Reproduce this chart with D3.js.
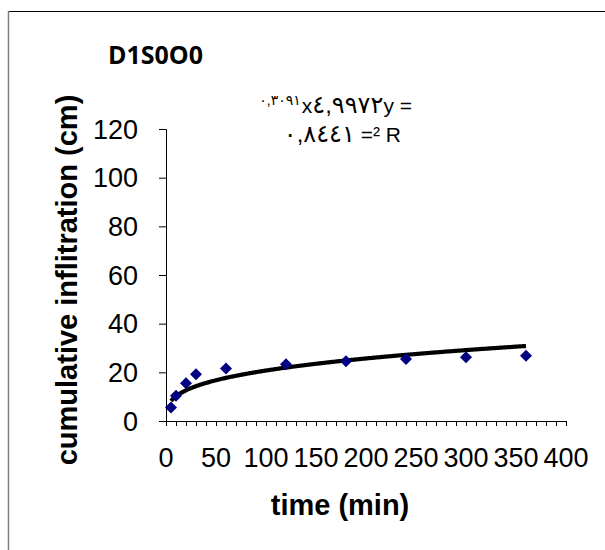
<!DOCTYPE html>
<html lang="en">
<head>
<meta charset="UTF-8">
<title>D1S0O0</title>
<style>
  body { margin: 0; background: #fff; }
  text { font-family: "Liberation Sans", Arial, "DejaVu Sans", sans-serif; }
  .bidi { unicode-bidi: bidi-override; direction: ltr; }
</style>
</head>
<body>
<div id="chart"></div>
<script src="https://d3js.org/d3.v7.min.js"></script>
<script>
  // measured points
  const timeMin = [5, 10, 20, 30, 60, 120, 180, 240, 300, 360];
  const infiltration = [5.5, 10.4, 15.5, 19.2, 21.6, 23.3, 24.6, 25.5, 26.2, 26.8];
  // power trendline shown on chart: y = a * x^b
  const fitA = 4.9972, fitB = 0.3091;
  const xTicks = [0, 50, 100, 150, 200, 250, 300, 350, 400];
  const yTicks = [0, 20, 40, 60, 80, 100, 120];

  const W = 605, H = 550;
  const plot = { left: 166, right: 566, top: 129, bottom: 421 };

  const x = d3.scaleLinear().domain([0, 400]).range([plot.left, plot.right]);
  const y = d3.scaleLinear().domain([0, 120]).range([plot.bottom, plot.top]);

  const svg = d3.select("#chart").append("svg")
    .attr("width", W).attr("height", H);

  // outer chart frame (clipped at right/bottom)
  svg.append("line").attr("x1", 8).attr("x2", W).attr("y1", 11.5).attr("y2", 11.5)
    .attr("stroke", "#000").attr("stroke-width", 1);
  svg.append("line").attr("x1", 8.5).attr("x2", 8.5).attr("y1", 11).attr("y2", H)
    .attr("stroke", "#808080").attr("stroke-width", 1.5);

  // x axis
  svg.append("g")
    .attr("transform", `translate(0,${plot.bottom})`)
    .call(d3.axisBottom(x).tickValues(d3.range(0, 410, 10)).tickSize(5).tickSizeOuter(0).tickFormat(""))
    .call(g => g.selectAll("path, line").attr("stroke", "#000"));

  svg.append("g").selectAll("text")
    .data(xTicks)
    .join("text")
    .attr("x", d => x(d))
    .attr("y", 467)
    .attr("text-anchor", "middle")
    .style("font-size", "27px")
    .text(d => d);

  // y axis
  svg.append("g")
    .attr("transform", `translate(${plot.left},0)`)
    .call(d3.axisLeft(y).tickValues(yTicks).tickSize(7).tickSizeOuter(7).tickPadding(21))
    .call(g => g.selectAll("path, line").attr("stroke", "#000"))
    .call(g => g.selectAll("text").style("font-size", "27px").attr("fill", "#000")
      .attr("dy", "0.34em")
      .style("font-family", '"Liberation Sans", Arial, sans-serif'));

  // trendline
  const trend = d3.range(5, 361, 1).map(t => [t, fitA * Math.pow(t, fitB)]);
  svg.append("path")
    .datum(trend)
    .attr("fill", "none")
    .attr("stroke", "#000")
    .attr("stroke-width", 4.2)
    .attr("d", d3.line().x(d => x(d[0])).y(d => y(d[1])));

  // markers
  svg.append("g").selectAll("path")
    .data(timeMin.map((t, i) => [t, infiltration[i]]))
    .join("path")
    .attr("transform", d => `translate(${x(d[0])},${y(d[1])})`)
    .attr("d", d3.symbol(d3.symbolDiamond2, 92))
    .attr("fill", "#000080");

  // title
  svg.append("text")
    .attr("x", 108).attr("y", 64)
    .style("font-family", '"Open Sans", sans-serif')
    .style("font-weight", "bold")
    .style("font-size", "25px")
    .text("D1S0O0");

  // equation label (RTL rendering as in source)
  const eq1 = svg.append("text").attr("class", "bidi")
    .attr("x", 412).attr("y", 113).attr("text-anchor", "end")
    .style("font-size", "21px");
  eq1.append("tspan").text("x");
  eq1.append("tspan").style("font-size", "24px").text("٤,٩٩٧٢");
  eq1.append("tspan").text("y =");
  const eq1Left = 412 - eq1.node().getComputedTextLength();

  svg.append("text").attr("class", "bidi")
    .attr("x", eq1Left - 1).attr("y", 105).attr("text-anchor", "end")
    .style("font-size", "14px")
    .text("٠,٣٠٩١");

  const eq2 = svg.append("text").attr("class", "bidi")
    .attr("x", 401).attr("y", 142).attr("text-anchor", "end")
    .style("font-size", "21px");
  eq2.append("tspan").style("font-size", "24px").text("٠,٨٤٤١");
  eq2.append("tspan").text(" =² R");

  // axis titles
  svg.append("text")
    .attr("x", 340).attr("y", 515)
    .attr("text-anchor", "middle")
    .style("font-weight", "bold").style("font-size", "29px")
    .text("time (min)");

  svg.append("text")
    .attr("transform", `translate(77,280) rotate(-90)`)
    .attr("text-anchor", "middle")
    .style("font-weight", "bold").style("font-size", "29px")
    .text("cumulative inflitration (cm)");
</script>
</body>
</html>
